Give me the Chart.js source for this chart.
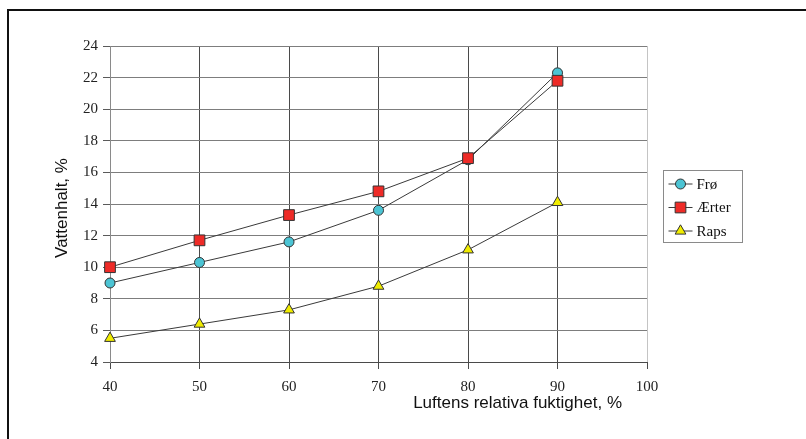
<!DOCTYPE html>
<html>
<head>
<meta charset="utf-8">
<script src="https://cdn.jsdelivr.net/npm/chart.js@4/dist/chart.umd.min.js"></script>
<style>
  html, body { margin: 0; padding: 0; background: #fff; }
  #wrap { position: relative; width: 806px; height: 439px; }
  canvas { display: block; }
</style>
</head>
<body>
<div id="wrap"><canvas id="c" width="806" height="439"></canvas></div>
<script>
// Relative humidity of the air (%)
const humidity = [40, 50, 60, 70, 80, 90];

// Moisture content (%) per material
const seriesNames = ['Frø', 'Ærter', 'Raps'];
const fro   = [9.0, 10.3, 11.6, 13.6, 16.8, 22.3];
const arter = [10.0, 11.7, 13.3, 14.8, 16.9, 21.8];
const raps  = [5.5, 6.4, 7.3, 8.8, 11.1, 14.1];

// Axis ticks
const xTicks = [40, 50, 60, 70, 80, 90, 100];
const yTicks = [4, 6, 8, 10, 12, 14, 16, 18, 20, 22, 24];

const xTitle = 'Luftens relativa fuktighet, %';
const yTitle = 'Vattenhalt, %';

const SERIF = '"Liberation Serif", "Times New Roman", serif';
const SANS = '"Liberation Sans", Arial, sans-serif';

function toPoints(values) {
  return values.map((v, i) => ({ x: humidity[i], y: v }));
}

const styles = [
  { bg: '#4cc4d4', style: 'circle', r: 5, order: 1 },
  { bg: '#ee2b27', style: 'rect', r: 7.6, order: 0 },
  { bg: '#f0ec00', style: 'triangle', r: 6.2, order: 0 }
];
const allValues = [fro, arter, raps];

const datasets = allValues.map((vals, i) => ({
  label: seriesNames[i],
  data: toPoints(vals),
  order: styles[i].order,
  clip: false,
  borderColor: '#3a3a3a',
  borderWidth: 1,
  backgroundColor: styles[i].bg,
  pointBackgroundColor: styles[i].bg,
  pointBorderColor: '#333333',
  pointBorderWidth: 1,
  pointStyle: styles[i].style,
  pointRadius: styles[i].r,
  pointHoverRadius: styles[i].r,
  tension: 0,
  fill: false
}));

// Small marker used in the legend, same shapes as the chart points
function drawMarker(ctx, style, x, y, r) {
  ctx.beginPath();
  if (style === 'circle') {
    ctx.arc(x, y, r, 0, Math.PI * 2);
  } else if (style === 'rect') {
    const s = Math.SQRT1_2 * r;
    ctx.rect(x - s, y - s, 2 * s, 2 * s);
  } else if (style === 'triangle') {
    ctx.moveTo(x, y - r);
    ctx.lineTo(x + r * Math.sin(Math.PI / 3), y + r / 2);
    ctx.lineTo(x - r * Math.sin(Math.PI / 3), y + r / 2);
    ctx.closePath();
  }
  ctx.fill();
  ctx.stroke();
}

// Frame lines, axis titles and the boxed legend
const decorations = {
  id: 'decorations',
  beforeDraw(chart) {
    const ctx = chart.ctx;
    ctx.save();
    ctx.fillStyle = '#ffffff';
    ctx.fillRect(0, 0, chart.width, chart.height);
    ctx.strokeStyle = '#111111';
    ctx.lineWidth = 2;
    ctx.beginPath();
    ctx.moveTo(8, chart.height);
    ctx.lineTo(8, 10);
    ctx.lineTo(chart.width, 10);
    ctx.stroke();
    ctx.restore();
  },
  afterDraw(chart) {
    const ctx = chart.ctx;
    const a = chart.chartArea;
    ctx.save();
    // axis titles
    ctx.fillStyle = '#111111';
    ctx.font = '17px ' + SANS;
    ctx.textAlign = 'right';
    ctx.textBaseline = 'alphabetic';
    ctx.fillText(xTitle, a.right - 25, a.bottom + 46);

    ctx.translate(67, (a.top + a.bottom) / 2 + 4);
    ctx.rotate(-Math.PI / 2);
    ctx.textAlign = 'center';
    ctx.fillText(yTitle, 0, 0);
    ctx.restore();

    // legend
    ctx.save();
    const bx = a.right + 16.5, by = 170.5, bw = 79, bh = 72;
    ctx.strokeStyle = '#8a8a8a';
    ctx.lineWidth = 1;
    ctx.strokeRect(bx, by, bw, bh);
    ctx.font = '15px ' + SERIF;
    ctx.textAlign = 'left';
    ctx.textBaseline = 'middle';
    chart.data.datasets.forEach((ds, i) => {
      const cy = by + 13.5 + i * 23.5;
      ctx.strokeStyle = ds.borderColor;
      ctx.lineWidth = 1;
      ctx.beginPath();
      ctx.moveTo(bx + 5, cy);
      ctx.lineTo(bx + 29, cy);
      ctx.stroke();
      ctx.fillStyle = ds.pointBackgroundColor;
      ctx.strokeStyle = ds.pointBorderColor;
      drawMarker(ctx, ds.pointStyle, bx + 17, cy, ds.pointRadius);
      ctx.fillStyle = '#111111';
      ctx.fillText(ds.label, bx + 33, cy + 1);
    });
    ctx.restore();
  }
};

new Chart(document.getElementById('c'), {
  type: 'line',
  data: { datasets },
  plugins: [decorations],
  options: {
    responsive: false,
    animation: false,
    events: [],
    layout: { padding: { left: 0, top: 46, right: 159, bottom: 0 } },
    plugins: {
      legend: { display: false },
      tooltip: { enabled: false },
      title: { display: false }
    },
    scales: {
      x: {
        type: 'linear',
        min: xTicks[0],
        max: xTicks[xTicks.length - 1],
        afterBuildTicks(scale) { scale.ticks = xTicks.map(v => ({ value: v })); },
        afterFit(scale) { scale.height = 77; },
        grid: {
          color: (c) => c.index === xTicks.length - 1 ? '#c4c4c4' : '#4a4a4a',
          lineWidth: 1,
          drawTicks: true,
          tickLength: 7,
          tickColor: '#4a4a4a'
        },
        border: { display: true, color: '#4a4a4a', width: 1 },
        ticks: {
          font: { family: SERIF, size: 15 },
          color: '#222222',
          padding: 9,
          maxRotation: 0,
          autoSkip: false
        }
      },
      y: {
        type: 'linear',
        min: yTicks[0],
        max: yTicks[yTicks.length - 1],
        afterBuildTicks(scale) { scale.ticks = yTicks.map(v => ({ value: v })); },
        afterFit(scale) { scale.width = 110; },
        grid: {
          color: '#7d7d7d',
          lineWidth: 1,
          drawTicks: true,
          tickLength: 7,
          tickColor: '#5a5a5a'
        },
        border: { display: true, color: '#8a8a8a', width: 1 },
        ticks: {
          font: { family: SERIF, size: 15 },
          color: '#222222',
          padding: 5,
          autoSkip: false
        }
      }
    }
  }
});
</script>
</body>
</html>
